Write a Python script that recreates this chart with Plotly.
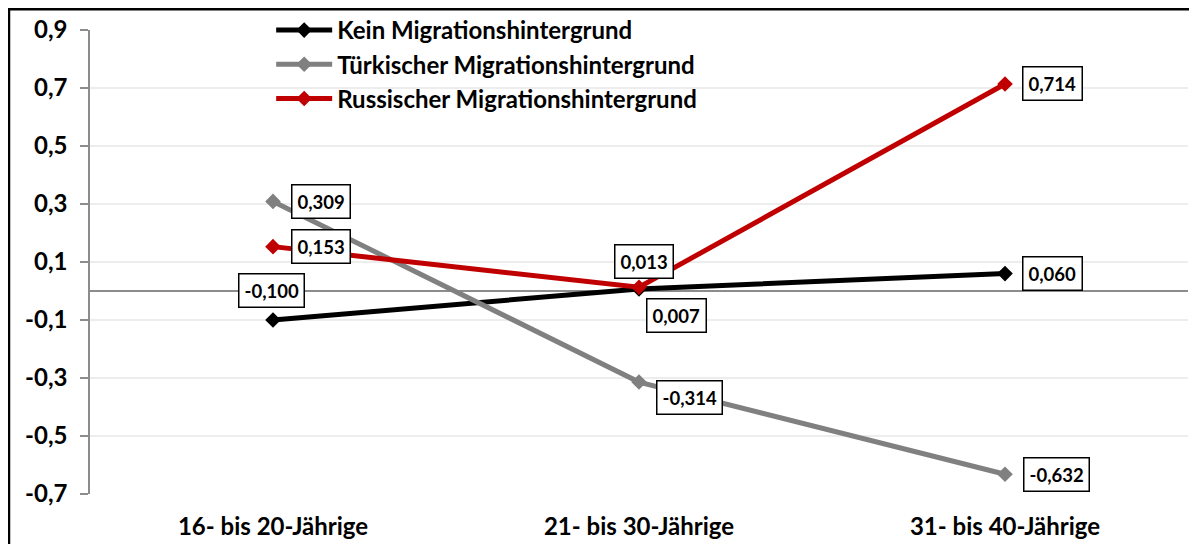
import plotly.graph_objects as go

categories = ["16- bis 20-Jährige", "21- bis 30-Jährige", "31- bis 40-Jährige"]
series_names = ["Kein Migrationshintergrund", "Türkischer Migrationshintergrund", "Russischer Migrationshintergrund"]
kein = [-0.100, 0.007, 0.060]
tuerk = [0.309, -0.314, -0.632]
russ = [0.153, 0.013, 0.714]
label_kein = ["-0,100", "0,007", "0,060"]
label_tuerk = ["0,309", "-0,314", "-0,632"]
label_russ = ["0,153", "0,013", "0,714"]
y_tickvals = [0.9, 0.7, 0.5, 0.3, 0.1, -0.1, -0.3, -0.5, -0.7]
y_ticktext = ["0,9", "0,7", "0,5", "0,3", "0,1", "-0,1", "-0,3", "-0,5", "-0,7"]

FONT = "Lato"
colors = ["#000000", "#808080", "#C00000"]
# label offsets (pixels) per series/point: (xshift, yshift)
offsets = [
    [(-2, 30), (37, -27), (47, 0)],
    [(48, 0), (50, -15), (51, 0)],
    [(48, 0), (5, 26), (47, 0)],
]

W, H = 1197, 544
ML, MR, MT, MB = 82, 17, 0, 58
PH = H - MT - MB          # paper height
PW = W - ML - MR          # paper width
axis_top_px = 22          # y-axis top from figure top

fig = go.Figure()
all_vals = [kein, tuerk, russ]
all_labels = [label_kein, label_tuerk, label_russ]
for name, vals, col in zip(series_names, all_vals, colors):
    fig.add_trace(go.Scatter(
        x=categories, y=vals, name=name, mode="lines+markers",
        line=dict(color=col, width=5),
        marker=dict(symbol="diamond", size=12, color=col),
        legendgroup=name,
    ))

annotations = []
for vals, labs, offs in zip(all_vals, all_labels, offsets):
    for c, v, t, (dx, dy) in zip(categories, vals, labs, offs):
        annotations.append(dict(
            x=c, y=v, xref="x", yref="y", text=t, showarrow=False,
            xshift=dx, yshift=dy,
            font=dict(family=FONT, size=18.5, color="#000000", weight="bold"),
            bgcolor="#FFFFFF", bordercolor="#000000", borderwidth=1.5, borderpad=5,
        ))

fig.update_layout(
    width=W, height=H,
    margin=dict(l=ML, r=MR, t=MT, b=MB, autoexpand=False),
    paper_bgcolor="#FFFFFF", plot_bgcolor="#FFFFFF",
    font=dict(family=FONT, color="#000000"),
    showlegend=True,
    legend=dict(
        x=0.165, y=1.0, xanchor="left", yanchor="top",
        font=dict(family=FONT, size=24, color="#000000", weight="bold"),
        bgcolor="rgba(0,0,0,0)", tracegroupgap=0, itemwidth=56,
    ),
    annotations=annotations,
    shapes=[
        dict(type="rect", xref="paper", yref="paper",
             x0=(1 - ML) / PW, x1=1.05, y0=-0.3, y1=1 - 1.2 / PH,
             line=dict(color="#000000", width=2.5), fillcolor="rgba(0,0,0,0)", layer="above"),
    ],
)
fig.update_xaxes(
    type="category", range=[-0.5, 2.5], showgrid=False, showline=False, zeroline=False,
    ticks="", ticklabelstandoff=16, automargin=False,
    tickfont=dict(family=FONT, size=24, color="#000000", weight="bold"),
)
fig.update_yaxes(
    domain=[0, (PH - axis_top_px) / PH], automargin=False,
    range=[-0.7, 0.9], tickvals=y_tickvals, ticktext=y_ticktext,
    showgrid=True, gridcolor="#EDEDED", gridwidth=1.5,
    zeroline=True, zerolinecolor="#8C8C8C", zerolinewidth=1.5,
    showline=True, linecolor="#8C8C8C", linewidth=1.5,
    ticks="outside", ticklen=8, tickcolor="#8C8C8C", tickwidth=1.5,
    ticklabelstandoff=8,
    tickfont=dict(family=FONT, size=24, color="#000000", weight="bold"),
)

fig.write_html("out.html")
